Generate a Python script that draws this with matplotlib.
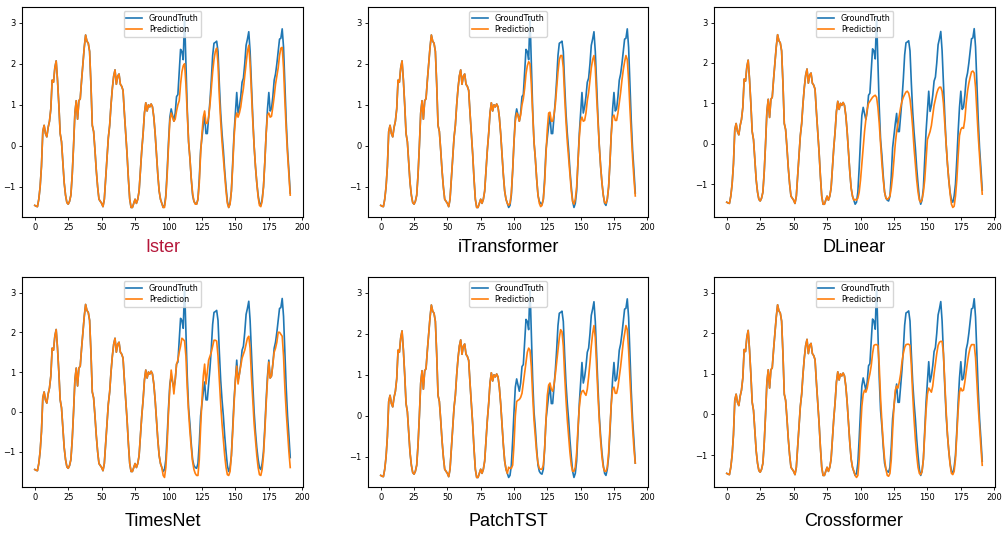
import numpy as np
import matplotlib
matplotlib.use("Agg")
import matplotlib.pyplot as plt

# ground truth, 192 steps (96 input + 96 horizon)
gt = [-1.45, -1.47, -1.48, -1.3, -1.0, -0.5, 0.35, 0.5, 0.3, 0.22,
      0.45, 0.6, 0.9, 1.6, 1.55, 1.9, 2.07, 1.6, 1.0, 0.3,
      0.1, -0.4, -0.9, -1.2, -1.38, -1.42, -1.35, -1.2, -0.7, 0.0,
      0.8, 1.1, 0.65, 1.1, 1.15, 1.6, 2.0, 2.4, 2.7, 2.55,
      2.5, 2.3, 1.5, 0.5, 0.35, -0.1, -0.6, -1.0, -1.3, -1.35,
      -1.4, -1.48, -1.3, -0.8, -0.3, 0.2, 0.5, 1.0, 1.4, 1.7,
      1.85, 1.5, 1.7, 1.75, 1.5, 1.45, 1.35, 0.8, 0.3, -0.2,
      -0.8, -1.3, -1.5, -1.5, -1.4, -1.3, -1.4, -1.3, -1.1, -0.6,
      -0.1, 0.3, 0.8, 1.05, 0.85, 1.0, 0.95, 1.02, 0.95, 0.7,
      0.3, -0.2, -0.7, -1.1, -1.3, -1.4,
      -1.5, -1.45, -1.2, -0.6, 0.1, 0.7, 0.9, 0.75, 0.6, 0.8,
      1.2, 1.25, 1.8, 2.35, 2.3, 2.1, 3.15, 2.0, 0.9, 0.1,
      -0.3, -0.8, -1.2, -1.35, -1.4, -1.42, -1.3, -0.8, -0.1, 0.2,
      0.5, 0.75, 0.3, 0.3, 0.7, 1.1, 1.6, 2.2, 2.5, 2.52,
      2.55, 2.3, 1.5, 0.8, 0.3, -0.1, -0.6, -1.0, -1.35, -1.5,
      -1.4, -1.1, -0.4, 0.3, 0.8, 1.3, 0.8, 0.95, 1.2, 1.55,
      1.65, 2.0, 2.45, 2.6, 2.78, 2.3, 1.5, 0.7, 0.0, -0.5,
      -0.9, -1.2, -1.4, -1.45, -1.3, -1.0, -0.4, 0.3, 0.9, 1.3,
      0.85, 0.9, 1.2, 1.6, 1.75, 2.0, 2.3, 2.6, 2.62, 2.85,
      2.4, 1.5, 0.6, -0.1, -0.6, -1.15]

# model outputs over the horizon (steps 96..191)
pred_ister = [-1.5, -1.5, -1.25, -0.7, 0.0, 0.6, 0.8, 0.7, 0.6, 0.65,
              0.85, 1.0, 1.1, 1.5, 1.8, 1.95, 2.0, 1.5, 0.8, 0.1,
              -0.3, -0.8, -1.15, -1.35, -1.42, -1.42, -1.3, -0.9, -0.2, 0.3,
              0.7, 0.85, 0.55, 0.55, 0.7, 1.0, 1.4, 1.8, 2.1, 2.3,
              2.38, 2.0, 1.2, 0.6, 0.1, -0.3, -0.7, -1.1, -1.4, -1.5,
              -1.42, -1.1, -0.5, 0.2, 0.65, 0.8, 0.7, 0.8, 0.95, 1.2,
              1.4, 1.7, 2.0, 2.3, 2.45, 2.0, 1.3, 0.6, 0.0, -0.5,
              -0.9, -1.25, -1.45, -1.48, -1.35, -1.0, -0.4, 0.3, 0.75, 0.8,
              0.7, 0.72, 0.95, 1.2, 1.5, 1.7, 1.9, 2.2, 2.38, 2.4,
              1.9, 1.1, 0.4, -0.2, -0.7, -1.2]
pred_itrans = [-1.45, -1.4, -1.15, -0.6, 0.1, 0.6, 0.8, 0.75, 0.6, 0.75,
               1.0, 1.15, 1.4, 1.75, 1.95, 2.05, 2.0, 1.5, 0.8, 0.1,
               -0.3, -0.8, -1.2, -1.4, -1.48, -1.45, -1.3, -0.9, -0.2, 0.4,
               0.8, 0.82, 0.6, 0.6, 0.75, 1.0, 1.4, 1.8, 2.1, 2.2,
               2.2, 1.9, 1.2, 0.6, 0.1, -0.3, -0.7, -1.1, -1.35, -1.42,
               -1.3, -1.0, -0.4, 0.2, 0.6, 0.7, 0.6, 0.62, 0.8, 1.1,
               1.3, 1.6, 1.9, 2.1, 2.2, 1.9, 1.2, 0.6, 0.0, -0.5,
               -0.9, -1.2, -1.38, -1.4, -1.3, -1.0, -0.4, 0.3, 0.7, 0.75,
               0.62, 0.62, 0.8, 1.05, 1.3, 1.6, 1.85, 2.05, 2.2, 2.1,
               1.6, 0.9, 0.3, -0.3, -0.8, -1.22]
pred_dlinear = [-1.38, -1.4, -1.35, -1.2, -0.9, -0.5, -0.1, 0.3, 0.6, 0.85,
                1.0, 1.05, 1.1, 1.15, 1.18, 1.2, 1.15, 0.9, 0.5, 0.0,
                -0.5, -0.9, -1.2, -1.35, -1.38, -1.35, -1.3, -1.1, -0.8, -0.4,
                0.0, 0.3, 0.5, 0.7, 0.9, 1.05, 1.15, 1.22, 1.28, 1.3,
                1.25, 1.1, 0.8, 0.4, -0.1, -0.5, -0.9, -1.2, -1.4, -1.45,
                -1.38, -1.2, -0.9, -0.4, 0.1, 0.2, 0.3, 0.45, 0.7, 0.95,
                1.1, 1.25, 1.35, 1.4, 1.4, 1.3, 1.0, 0.5, 0.0, -0.5,
                -0.9, -1.25, -1.5, -1.58, -1.55, -1.3, -0.9, -0.3, 0.2, 0.35,
                0.4, 0.38, 0.6, 1.0, 1.3, 1.5, 1.65, 1.78, 1.8, 1.75,
                1.4, 0.8, 0.2, -0.3, -0.8, -1.25]
pred_timesnet = [-1.6, -1.65, -1.4, -0.8, 0.0, 0.6, 1.05, 0.8, 0.45, 0.8,
                 1.2, 1.3, 1.5, 1.65, 1.85, 1.82, 1.78, 1.4, 0.6, 0.0,
                 -0.5, -0.9, -1.25, -1.45, -1.55, -1.6, -1.6, -1.2, -0.4, 0.3,
                 0.9, 1.2, 0.7, 1.0, 1.3, 1.4, 1.5, 1.65, 1.8, 1.8,
                 1.78, 1.4, 0.8, 0.2, -0.3, -0.7, -1.1, -1.4, -1.58, -1.6,
                 -1.5, -1.1, -0.5, 0.2, 0.8, 1.15, 0.7, 0.95, 1.15, 1.35,
                 1.45, 1.55, 1.7, 1.85, 1.9, 1.6, 0.9, 0.3, -0.3, -0.7,
                 -1.1, -1.4, -1.58, -1.6, -1.45, -1.1, -0.5, 0.2, 0.8, 1.25,
                 0.85, 0.9, 1.2, 1.5, 1.6, 1.75, 2.0, 2.0, 1.95, 1.9,
                 1.4, 0.6, 0.0, -0.5, -1.0, -1.4]
pred_patchtst = [-1.25, -1.28, -1.28, -1.2, -0.7, 0.0, 0.35, 0.38, 0.4, 0.45,
                 0.55, 0.8, 1.05, 1.3, 1.55, 1.65, 1.6, 1.2, 0.5, -0.1,
                 -0.5, -0.9, -1.15, -1.28, -1.3, -1.3, -1.2, -0.8, -0.1, 0.5,
                 0.75, 0.8, 0.65, 0.6, 0.75, 1.0, 1.3, 1.6, 1.9, 2.1,
                 2.05, 1.7, 1.0, 0.4, -0.1, -0.5, -0.9, -1.2, -1.35, -1.35,
                 -1.25, -0.9, -0.3, 0.2, 0.5, 0.6, 0.62, 0.55, 0.5, 0.65,
                 0.95, 1.3, 1.7, 2.0, 2.2, 1.9, 1.2, 0.5, -0.1, -0.6,
                 -1.0, -1.25, -1.35, -1.35, -1.25, -0.9, -0.3, 0.3, 0.65, 0.7,
                 0.55, 0.55, 0.7, 0.95, 1.2, 1.5, 1.8, 2.0, 2.2, 2.1,
                 1.6, 0.9, 0.3, -0.3, -0.8, -1.15]
pred_cross = [-1.5, -1.55, -1.5, -1.1, -0.4, 0.2, 0.5, 0.6, 0.55, 0.65,
              0.85, 1.0, 1.2, 1.5, 1.7, 1.72, 1.72, 1.7, 1.2, 0.4,
              -0.2, -0.7, -1.1, -1.35, -1.5, -1.52, -1.45, -1.1, -0.4, 0.2,
              0.6, 0.7, 0.65, 0.8, 1.0, 1.3, 1.5, 1.65, 1.72, 1.73,
              1.73, 1.7, 1.2, 0.5, -0.1, -0.6, -1.0, -1.3, -1.45, -1.48,
              -1.4, -1.1, -0.5, 0.1, 0.5, 0.65, 0.6, 0.55, 0.7, 1.0,
              1.25, 1.5, 1.7, 1.78, 1.8, 1.8, 1.5, 0.8, 0.1, -0.5,
              -0.9, -1.25, -1.45, -1.48, -1.4, -1.1, -0.5, 0.1, 0.55, 0.65,
              0.58, 0.6, 0.8, 1.05, 1.3, 1.5, 1.65, 1.72, 1.72, 1.72,
              1.4, 0.8, 0.2, -0.3, -0.8, -1.25]

modelos = ["Ister", "iTransformer", "DLinear", "TimesNet", "PatchTST", "Crossformer"]
previsoes = [pred_ister, pred_itrans, pred_dlinear, pred_timesnet, pred_patchtst, pred_cross]
seq_len = 96

fig = plt.figure(figsize=(10.07, 5.35), dpi=100)
W, H = 1007, 535
# caixas dos eixos em pixels
lefts = [22, 368, 714]
rights = [303, 648, 995]
tops = [7, 277]
bottoms = [217, 487]
title_y = [247, 521]
title_x = [163, 508, 854]

gt = np.array(gt)
for i, (nome, pv) in enumerate(zip(modelos, previsoes)):
    r, c = divmod(i, 3)
    ax = fig.add_axes([lefts[c] / W, 1 - bottoms[r] / H,
                       (rights[c] - lefts[c]) / W, (bottoms[r] - tops[r]) / H])
    pred = np.concatenate([gt[:seq_len], np.array(pv)])
    ax.plot(gt, label='GroundTruth', linewidth=1.2)
    ax.plot(pred, label='Prediction', linewidth=1.2)
    ax.tick_params(labelsize=6, length=2.5, width=0.6, pad=2)
    for s in ax.spines.values():
        s.set_linewidth(0.8)
    ax.legend(loc='upper center', fontsize=5.8, handlelength=2.0,
              borderpad=0.35, labelspacing=0.25, framealpha=0.8)
    cor = '#b5173a' if nome == 'Ister' else 'black'
    fig.text(title_x[c] / W, 1 - title_y[r] / H, nome, ha='center', va='center',
             fontsize=13, color=cor, family=['Liberation Sans', 'DejaVu Sans'])

plt.savefig('out.png', dpi=100)
plt.close()
